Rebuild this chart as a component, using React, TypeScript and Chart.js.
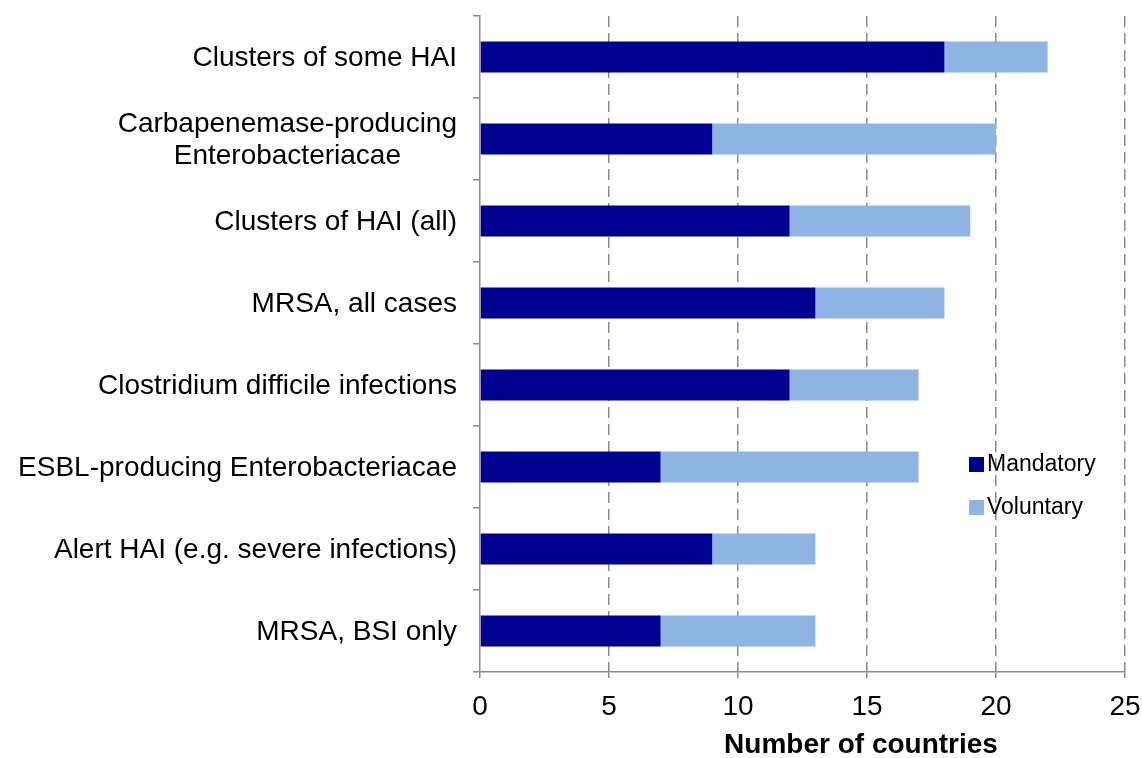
import React, { useEffect, useRef } from 'react';
import { Chart, registerables } from 'chart.js';

Chart.register(...registerables);

const categories: string[][] = [
  ['Clusters of some HAI'],
  ['Carbapenemase-producing', 'Enterobacteriacae'],
  ['Clusters of HAI (all)'],
  ['MRSA, all cases'],
  ['Clostridium difficile infections'],
  ['ESBL-producing Enterobacteriacae'],
  ['Alert HAI (e.g. severe infections)'],
  ['MRSA, BSI only'],
];
const mandatory: number[] = [18, 9, 12, 13, 12, 7, 9, 7];
const voluntary: number[] = [4, 11, 7, 5, 5, 10, 4, 6];
const xTickValues: number[] = [0, 5, 10, 15, 20, 25];
const seriesNames: string[] = ['Mandatory', 'Voluntary'];
const seriesColors: string[] = ['#000090', '#8DB4E2'];
const xTitle = 'Number of countries';

const FONT = '"Liberation Sans", Arial, sans-serif';

const yLabelPlugin = {
  id: 'yLabels',
  afterDraw(chart: any) {
    const ctx = chart.ctx;
    const yScale = chart.scales.y;
    ctx.save();
    ctx.font = `28px ${FONT}`;
    ctx.fillStyle = '#000';
    ctx.textBaseline = 'middle';
    ctx.textAlign = 'center';
    categories.forEach((lines, i) => {
      const y = yScale.getPixelForValue(i);
      const widths = lines.map((l) => ctx.measureText(l).width);
      const maxW = Math.max(...widths);
      const right = yScale.right - 23;
      const cx = right - maxW / 2;
      lines.forEach((l, j) => {
        ctx.fillText(l, cx, y + 1 + (j - (lines.length - 1) / 2) * 32);
      });
    });
    // x axis title
    ctx.font = `bold 28px ${FONT}`;
    ctx.textAlign = 'center';
    ctx.fillText(xTitle, 861, 745);
    ctx.restore();
  },
};

const legendPlugin = {
  id: 'customLegend',
  afterDraw(chart: any) {
    const ctx = chart.ctx;
    ctx.save();
    ctx.font = `23px ${FONT}`;
    ctx.textBaseline = 'middle';
    ctx.textAlign = 'left';
    chart.data.datasets.forEach((ds: any, i: number) => {
      const cy = 465 + i * 43;
      ctx.fillStyle = ds.backgroundColor;
      ctx.fillRect(969, cy - 8, 15, 15);
      ctx.fillStyle = '#000';
      ctx.fillText(ds.label, 987, cy);
    });
    ctx.restore();
  },
};

export default function App() {
  const ref = useRef<HTMLCanvasElement | null>(null);

  useEffect(() => {
    document.body.style.margin = '0';
    if (!ref.current) return;
    const chart = new Chart(ref.current, {
      type: 'bar',
      data: {
        labels: categories as any,
        datasets: [
          {
            label: seriesNames[0],
            data: mandatory,
            backgroundColor: seriesColors[0],
            categoryPercentage: 1,
            barPercentage: 0.38,
          },
          {
            label: seriesNames[1],
            data: voluntary,
            backgroundColor: seriesColors[1],
            categoryPercentage: 1,
            barPercentage: 0.38,
          },
        ],
      },
      options: {
        indexAxis: 'y',
        responsive: false,
        animation: false,
        layout: { padding: { top: 16, right: 17, left: 0, bottom: 0 } },
        plugins: {
          legend: { display: false },
          tooltip: { enabled: false },
        },
        scales: {
          x: {
            stacked: true,
            min: 0,
            max: 25,
            afterBuildTicks: (scale: any) => {
              scale.ticks = xTickValues.map((v) => ({ value: v }));
            },
            afterFit: (scale: any) => {
              scale.height = 86;
              scale.paddingRight = 0;
              scale.paddingLeft = 0;
            },
            grid: {
              color: (c: any) => (c.tick && c.tick.value === 0 ? 'rgba(0,0,0,0)' : '#8a8a8a'),
              lineWidth: 1.5,
              tickColor: '#8a8a8a',
              tickLength: 6,
            },
            border: { color: '#8a8a8a', width: 1.5, dash: [11, 6] },
            ticks: {
              color: '#000',
              font: { family: FONT, size: 28 },
              padding: 12,
            },
          },
          y: {
            stacked: true,
            afterFit: (scale: any) => {
              scale.width = 480;
            },
            grid: {
              drawOnChartArea: false,
              drawTicks: true,
              tickLength: 7,
              color: '#8a8a8a',
              lineWidth: 1.5,
            },
            border: { color: '#8a8a8a', width: 1.5 },
            ticks: { display: false },
          },
        },
      },
      plugins: [yLabelPlugin, legendPlugin],
    } as any);
    return () => chart.destroy();
  }, []);

  return (
    <div style={{ width: 1142, height: 758 }}>
      <canvas ref={ref} width={1142} height={758} style={{ display: 'block' }} />
    </div>
  );
}
